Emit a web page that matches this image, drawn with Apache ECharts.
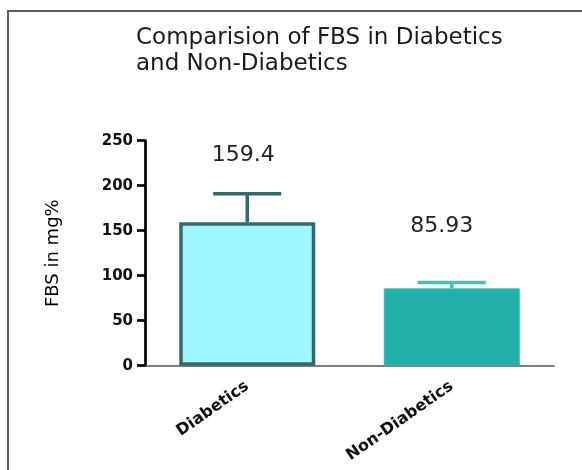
<!DOCTYPE html>
<html>
<head>
<meta charset="utf-8">
<script src="https://cdn.jsdelivr.net/npm/echarts@6/dist/echarts.min.js"></script>
<style>
  html, body { margin: 0; padding: 0; background: #fff; }
  #chart { width: 582px; height: 470px; }
</style>
</head>
<body>
<div id="chart"></div>
<script>
// Fasting blood sugar, mean and error per group
const categories = ['Diabetics', 'Non-Diabetics'];
const meanFBS = [159.4, 85.93];
const errorFBS = [31.6, 6.6];
const yTicks = [0, 50, 100, 150, 200, 250];

// Per-group appearance
const barFill = ['#9ff7fe', '#20b2aa'];
const barEdge = ['#336b6b', '#2fbcb3'];
const barEdgeWidth = [3.5, 1];
const errColor = ['#336b6b', '#3cc4bc'];
const labelShift = [
  { distance: 56, offset: [-4, 0] },
  { distance: 51, offset: [-10, 0] }
];

const chart = echarts.init(document.getElementById('chart'), null, { renderer: 'canvas' });

const barData = meanFBS.map((v, i) => ({
  value: v,
  itemStyle: { color: barFill[i], borderColor: barEdge[i], borderWidth: barEdgeWidth[i] },
  label: { distance: labelShift[i].distance, offset: labelShift[i].offset }
}));

const errData = meanFBS.map((v, i) => [i, v, errorFBS[i]]);

chart.setOption({
  animation: false,
  backgroundColor: '#ffffff',
  title: {
    text: 'Comparision of FBS in Diabetics\nand Non-Diabetics',
    left: 136,
    top: 25,
    padding: 0,
    textStyle: {
      fontFamily: 'DejaVu Sans',
      fontSize: 23,
      fontWeight: 'normal',
      lineHeight: 26,
      color: '#1a1a1a'
    }
  },
  graphic: [{
    type: 'polyline',
    shape: { points: [[8, 470], [8, 11], [582, 11]] },
    style: { stroke: '#5e5e5e', lineWidth: 2, fill: null },
    silent: true
  }],
  grid: { left: 145, right: 28, top: 140.7, bottom: 104.3, containLabel: false },
  xAxis: {
    type: 'category',
    data: categories,
    axisLine: { lineStyle: { color: '#555555', width: 1.5 } },
    axisTick: { alignWithLabel: true, length: 6, lineStyle: { color: '#111', width: 3 } },
    axisLabel: {
      rotate: 35,
      margin: 19,
      fontFamily: 'DejaVu Sans',
      fontWeight: 'bold',
      fontSize: 16,
      color: '#111'
    }
  },
  yAxis: {
    type: 'value',
    min: yTicks[0],
    max: yTicks[yTicks.length - 1],
    interval: yTicks[1] - yTicks[0],
    name: 'FBS in mg%',
    nameLocation: 'middle',
    nameGap: 83,
    nameTextStyle: { fontFamily: 'DejaVu Sans', fontSize: 18, color: '#000' },
    splitLine: { show: false },
    axisLine: { show: true, lineStyle: { color: '#000', width: 2.7 } },
    axisTick: { show: true, length: 8, lineStyle: { color: '#000', width: 2.7 } },
    axisLabel: {
      margin: 12,
      fontFamily: 'DejaVu Sans',
      fontWeight: 'bold',
      fontSize: 15,
      color: '#111'
    }
  },
  series: [
    {
      type: 'bar',
      data: barData,
      barWidth: 136,
      label: {
        show: true,
        position: 'top',
        fontFamily: 'DejaVu Sans',
        fontSize: 22,
        color: '#222',
        formatter: p => String(p.value)
      },
      z: 2
    },
    {
      type: 'custom',
      data: errData,
      z: 3,
      renderItem: function (params, api) {
        const i = params.dataIndex;
        const x = api.value(0);
        const m = api.value(1);
        const e = api.value(2);
        const top = api.coord([x, m + e]);
        const base = api.coord([x, m]);
        const half = 34;
        const style = { stroke: errColor[i], lineWidth: 3.5 };
        return {
          type: 'group',
          children: [
            { type: 'line', shape: { x1: top[0], y1: top[1], x2: base[0], y2: base[1] }, style: style },
            { type: 'line', shape: { x1: top[0] - half, y1: top[1], x2: top[0] + half, y2: top[1] }, style: style }
          ]
        };
      }
    }
  ]
});
</script>
</body>
</html>
